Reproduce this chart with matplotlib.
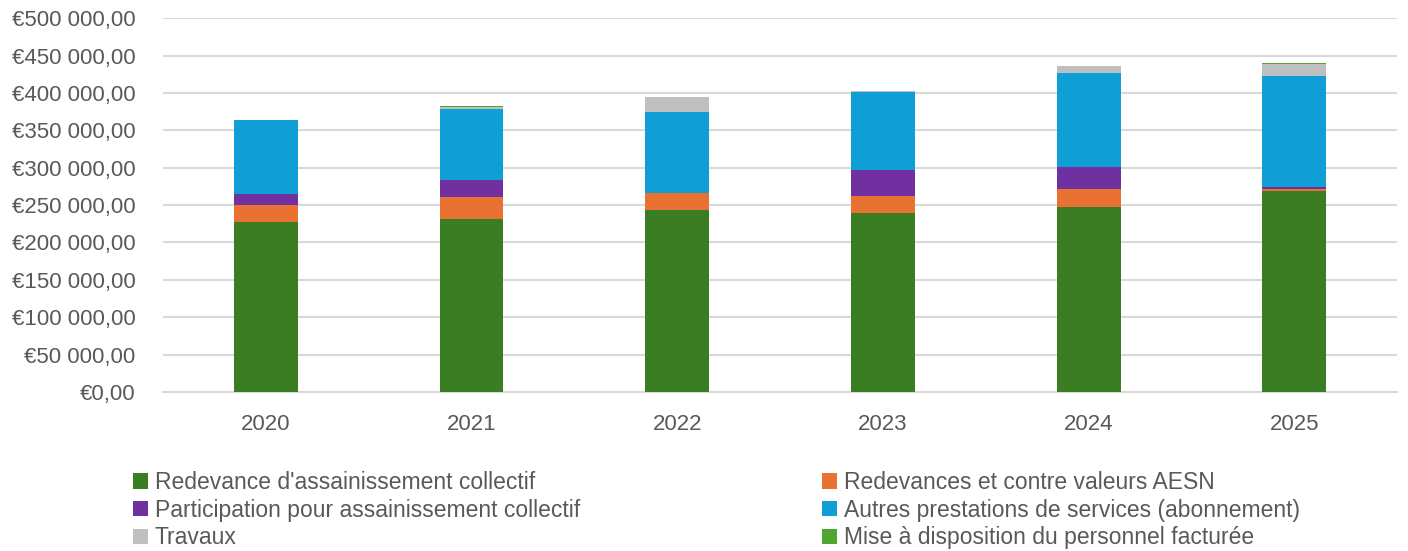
import matplotlib
matplotlib.use('Agg')
import matplotlib.pyplot as plt
from matplotlib.ticker import FuncFormatter, MultipleLocator
from matplotlib.patches import Patch
import numpy as np

plt.rcParams['font.family'] = ['Liberation Sans', 'DejaVu Sans']

years = ["2020", "2021", "2022", "2023", "2024", "2025"]
redevance_collectif = [227000, 231700, 242900, 239700, 247800, 269100]
redevances_aesn = [23500, 29400, 23200, 22800, 23200, 2700]
participation = [14000, 22300, 0, 33900, 29400, 2700]
autres_prestations = [99700, 95400, 108700, 104300, 126500, 148400]
travaux = [0, 2500, 19200, 2100, 9400, 15200]
mise_disposition = [0, 1500, 0, 0, 0, 1300]

series = [
    ("Redevance d'assainissement collectif", redevance_collectif, "#3A7D22"),
    ("Redevances et contre valeurs AESN", redevances_aesn, "#E97132"),
    ("Participation pour assainissement collectif", participation, "#7030A0"),
    ("Autres prestations de services (abonnement)", autres_prestations, "#0F9ED5"),
    ("Travaux", travaux, "#BFBFBF"),
    ("Mise à disposition du personnel facturée", mise_disposition, "#4EA72E"),
]

text_col = "#595959"
fig = plt.figure(figsize=(14.08, 5.51), dpi=100)
ax = fig.add_axes([0.1158, 0.2886, 0.8765, 0.6784])

x = np.arange(len(years))
bottom = np.zeros(len(years))
for name, vals, col in series:
    vals = np.array(vals, dtype=float)
    ax.bar(x, vals, bottom=bottom, width=0.31, color=col, label=name, zorder=3)
    bottom += vals

ax.set_xlim(-0.5, len(years) - 0.5)
ax.set_ylim(0, 500000)
ax.yaxis.set_major_locator(MultipleLocator(50000))
ax.yaxis.set_major_formatter(FuncFormatter(
    lambda v, p: "€" + f"{v:,.2f}".replace(",", " ").replace(".", ",")))
ax.set_xticks(x)
ax.set_xticklabels(years)
ax.grid(axis='y', color="#D9D9D9", linewidth=1.5, zorder=0)
for s in ax.spines.values():
    s.set_visible(False)
ax.spines['bottom'].set_visible(True)
ax.spines['bottom'].set_color("#D9D9D9")
ax.spines['bottom'].set_linewidth(1.5)
ax.tick_params(axis='both', length=0, labelsize=16, labelcolor=text_col)
ax.tick_params(axis='x', pad=16)
ax.tick_params(axis='y', pad=20)

# legend: two columns, filled column-wise
order = [0, 2, 4, 1, 3, 5]
handles = [Patch(facecolor=series[i][2], label=series[i][0]) for i in order]
fig.legend(handles=handles, loc='upper left', bbox_to_anchor=(0.0945, 0.145),
           ncol=2, frameon=False, fontsize=16.5, labelcolor=text_col,
           handlelength=0.65, handleheight=0.65, handletextpad=0.3,
           columnspacing=10.55, labelspacing=0.2, borderaxespad=0, borderpad=0)

fig.savefig("out.png", dpi=100)
